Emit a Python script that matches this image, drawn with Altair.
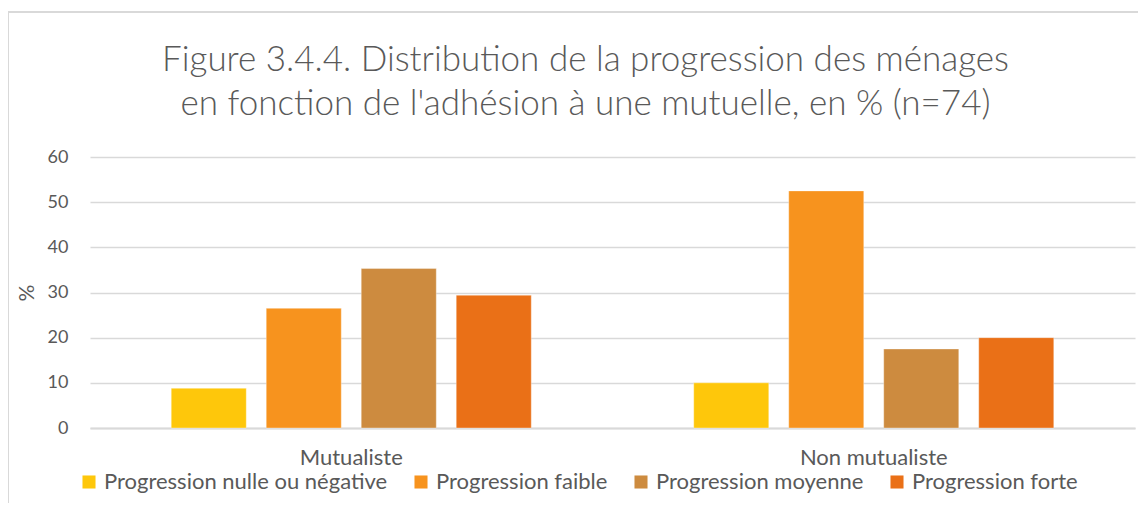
import altair as alt
import pandas as pd

groups = ["Mutualiste", "Non mutualiste"]
series = ["Progression nulle ou négative", "Progression faible", "Progression moyenne", "Progression forte"]
mutualiste = [8.8, 26.5, 35.3, 29.4]
non_mutualiste = [10.0, 52.5, 17.5, 20.0]
colors = ["#FEC70B", "#F7931E", "#CD8B3F", "#EA7017"]
y_ticks = [0, 10, 20, 30, 40, 50, 60]

rows = []
for g, vals in zip(groups, [mutualiste, non_mutualiste]):
    for s, v in zip(series, vals):
        rows.append({"groupe": g, "serie": s, "valeur": v})
df = pd.DataFrame(rows)

FONT = "Lato"
TXT = "#595959"

bars = alt.Chart(df).mark_bar(stroke="white", strokeOpacity=0.35, strokeWidth=1).encode(
    x=alt.X("groupe:N", sort=groups, title=None,
            scale=alt.Scale(paddingInner=0, paddingOuter=0),
            axis=alt.Axis(labelAngle=0, labelFontSize=22, labelColor=TXT, labelFont=FONT,
                          ticks=False, domainColor="#D9D9D9", domainWidth=2, labelPadding=19)),
    xOffset=alt.XOffset("serie:N", sort=series,
                        scale=alt.Scale(paddingInner=0.21, paddingOuter=0.855)),
    y=alt.Y("valeur:Q", title="%",
            scale=alt.Scale(domain=[0, 60]),
            axis=alt.Axis(values=y_ticks, labelFontSize=18, labelColor=TXT, labelFont=FONT,
                          ticks=False, domain=False, gridColor="#D9D9D9", gridWidth=1.5,
                          labelPadding=22, titleFontSize=21, titleColor=TXT, titleFont=FONT,
                          titleFontWeight="normal", titlePadding=10)),
    color=alt.Color("serie:N", sort=series,
                    scale=alt.Scale(domain=series, range=colors),
                    legend=alt.Legend(title=None, orient="none", direction="horizontal",
                                      legendX=-12, legendY=314, columns=4,
                                      symbolType="square", symbolSize=170, symbolStrokeWidth=0,
                                      labelFontSize=22, labelColor=TXT, labelFont=FONT,
                                      labelOffset=4, columnPadding=22, labelLimit=400)),
)

frame_df = pd.DataFrame({"k": [0]})
left_edge = alt.Chart(frame_df).mark_rule(color="#D9D9D9", strokeWidth=2).encode(
    x=alt.value(-82), y=alt.value(-145), y2=alt.value(350))
top_edge = alt.Chart(frame_df).mark_rule(color="#D9D9D9", strokeWidth=2).encode(
    x=alt.value(-82), x2=alt.value(1060), y=alt.value(-145))

chart = alt.layer(bars, left_edge, top_edge).properties(
    width=1045,
    height=271,
    title=alt.TitleParams(
        text=["Figure 3.4.4. Distribution de la progression des ménages",
              "en fonction de l'adhésion à une mutuelle, en % (n=74)"],
        fontSize=35, font=FONT, fontWeight=300, color=TXT, anchor="middle",
        dx=-27, offset=-111, lineHeight=44),
    autosize=alt.AutoSizeParams(type="none"),
    padding={"left": 82, "top": 149, "right": 3, "bottom": 75},
).configure(background="white").configure_view(stroke=None)

chart.save("out.html", embed_options={"renderer": "svg", "actions": False})
